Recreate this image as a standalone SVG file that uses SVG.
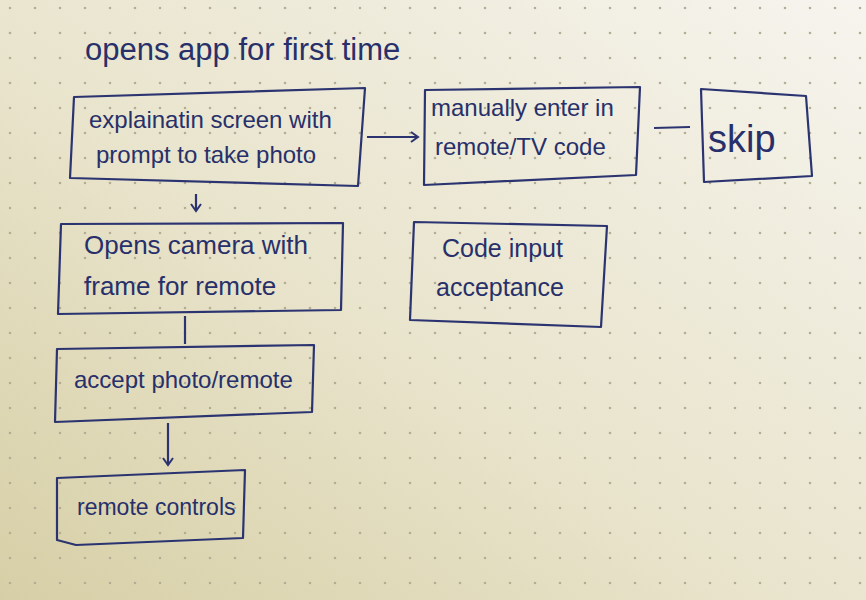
<svg xmlns="http://www.w3.org/2000/svg" width="866" height="600" viewBox="0 0 866 600">
<defs>
<linearGradient id="paper" x1="0" y1="1" x2="1" y2="0">
<stop offset="0" stop-color="#d6cfa6"/>
<stop offset="0.45" stop-color="#e9e4cc"/>
<stop offset="1" stop-color="#f6f4ee"/>
</linearGradient>
<pattern id="dots" x="8" y="6" width="25" height="25" patternUnits="userSpaceOnUse">
<circle cx="2" cy="2" r="1.3" fill="#b4ad96"/>
</pattern>
<marker id="ah" markerWidth="12" markerHeight="12" refX="9" refY="6" orient="auto" markerUnits="userSpaceOnUse">
<path d="M2,1 L9,6 L2,11" fill="none" stroke="#2b3470" stroke-width="2"/>
</marker>
<style>
.box{fill:none;stroke:#2b3470;stroke-width:2.2;stroke-linejoin:round}
.ln{fill:none;stroke:#2b3470;stroke-width:2.2}
.t{font-family:"Liberation Sans","DejaVu Sans",sans-serif;fill:#27306a;font-size:24px}
.title{font-size:31px}
</style>
</defs>
<rect width="866" height="600" fill="url(#paper)"/>
<rect width="866" height="600" fill="url(#dots)"/>

<text class="t title" x="85" y="60">opens app for first time</text>

<g id="connectors">
<line class="ln" x1="367" y1="137" x2="418" y2="137" marker-end="url(#ah)"/>
<line class="ln" x1="654" y1="128" x2="690" y2="127"/>
<line class="ln" x1="196" y1="194" x2="196" y2="211" marker-end="url(#ah)"/>
<line class="ln" x1="185" y1="316" x2="185" y2="344"/>
<line class="ln" x1="168" y1="423" x2="168" y2="465" marker-end="url(#ah)"/>
</g>

<g id="explanation">
<path class="box" d="M74,97 L365,88 L358,186 L70,178 Z"/>
<text class="t" x="89" y="128">explainatin  screen with</text>
<text class="t" x="96" y="163">prompt  to take  photo</text>
</g>

<g id="manual">
<path class="box" d="M425,90 L640,87 L636,175 L424,185 Z"/>
<text class="t" x="431" y="116">manually  enter in</text>
<text class="t" x="435" y="155">remote/TV  code</text>
</g>

<g id="skip">
<path class="box" d="M701,89 L806,96 L812,176 L704,182 Z"/>
<text class="t" x="708" y="152" style="font-size:38px">skip</text>
</g>

<g id="camera">
<path class="box" d="M61,224 L343,223 L341,310 L58,314 Z"/>
<text class="t" x="84" y="254" style="font-size:26px">Opens  camera  with</text>
<text class="t" x="84" y="295" style="font-size:26px">frame  for  remote</text>
</g>

<g id="codeinput">
<path class="box" d="M414,222 L607,226 L601,327 L410,320 Z"/>
<text class="t" x="442" y="257" style="font-size:25px">Code  input</text>
<text class="t" x="436" y="296" style="font-size:25px">acceptance</text>
</g>

<g id="acceptphoto">
<path class="box" d="M57,349 L314,345 L312,412 L55,422 Z"/>
<text class="t" x="74" y="388">accept  photo/remote</text>
</g>

<g id="remotecontrols">
<path class="box" d="M57,478 L245,470 L243,538 L76,545 L57,540 Z"/>
<text class="t" x="77" y="515" style="font-size:23px">remote  controls</text>
</g>
</svg>
